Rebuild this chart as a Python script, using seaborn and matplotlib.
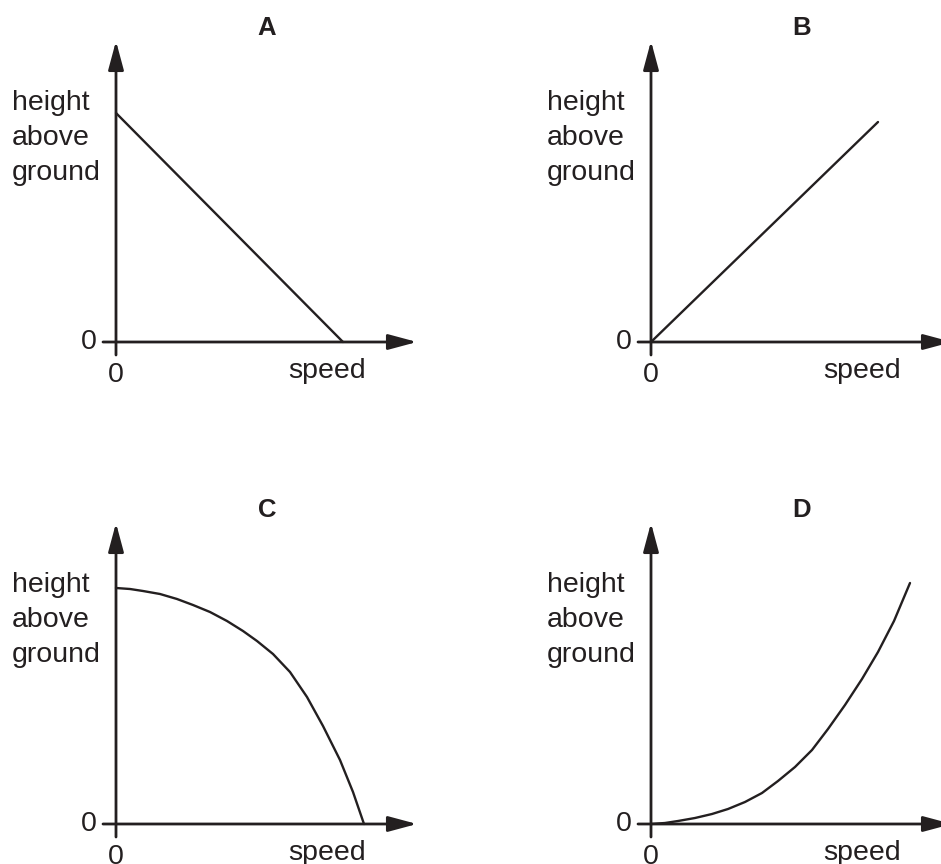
import matplotlib
matplotlib.use("Agg")
import matplotlib.pyplot as plt
import seaborn as sns

sns.set_style("white")
plt.rcParams['font.family'] = ['Liberation Sans', 'DejaVu Sans']

# values (pixel-ish units, origin at 0,0)
panel_labels = ["A", "B", "C", "D"]
y_label_lines = ["height", "above", "ground"]
x_label = "speed"
tick_label = "0"

line_a_x = [0, 227]
line_a_y = [229, 0]

line_b_x = [0, 227]
line_b_y = [0, 220]

curve_c_x = [0, 14, 27, 44, 61, 77, 94, 111, 127, 141, 157, 174, 191, 207, 224, 237, 248]
curve_c_y = [236, 235, 233, 230, 225, 219, 212, 203, 193, 183, 170, 152, 127, 98, 64, 32, 0]

curve_d_x = [0, 14, 27, 44, 61, 77, 94, 111, 127, 144, 161, 177, 194, 211, 227, 243, 259]
curve_d_y = [0, 1, 3, 6, 10, 15, 22, 31, 43, 57, 74, 95, 119, 145, 172, 203, 241]

series = [(line_a_x, line_a_y), (line_b_x, line_b_y),
          (curve_c_x, curve_c_y), (curve_d_x, curve_d_y)]

# where each origin sits in the figure (pixels from top-left)
origins = [(116, 342), (651, 342), (116, 824), (651, 824)]

W, H = 941, 864
ink = "#231f20"
left, right, above, below = 116, 310, 330, 45

fig = plt.figure(figsize=(W / 100, H / 100), dpi=100)

for label, (xs, ys), (ox, oy) in zip(panel_labels, series, origins):
    ax = fig.add_axes([(ox - left) / W, (H - oy - below) / H,
                       (left + right) / W, (above + below) / H])
    ax.set_xlim(-left, right)
    ax.set_ylim(-below, above)
    ax.axis("off")

    sns.lineplot(x=xs, y=ys, ax=ax, color=ink, linewidth=1.7)

    # axes with arrow heads
    arrow = dict(arrowstyle="-|>,head_length=1.75,head_width=0.47",
                 color=ink, lw=2.0, shrinkA=0, shrinkB=0, mutation_scale=10)
    ax.annotate("", xy=(301, 0), xytext=(-13, 0), arrowprops=arrow,
                annotation_clip=False)
    ax.annotate("", xy=(0, 301), xytext=(0, -13), arrowprops=arrow,
                annotation_clip=False)

    ax.text(151, 307, label, ha="center", va="baseline", fontsize=18.5,
            fontweight="bold", color=ink, clip_on=False)
    for i, word in enumerate(y_label_lines):
        ax.text(-104, 232 - 35 * i, word, ha="left", va="baseline",
                fontsize=20.5, color=ink, clip_on=False)
    ax.text(-19, 0, tick_label, ha="right", va="center", fontsize=20.5,
            color=ink, clip_on=False)
    ax.text(0, -40, tick_label, ha="center", va="baseline", fontsize=20.5,
            color=ink, clip_on=False)
    ax.text(172, -36, x_label, ha="left", va="baseline", fontsize=20.5,
            color=ink, clip_on=False)

fig.savefig("out.png", dpi=100, facecolor="white")
